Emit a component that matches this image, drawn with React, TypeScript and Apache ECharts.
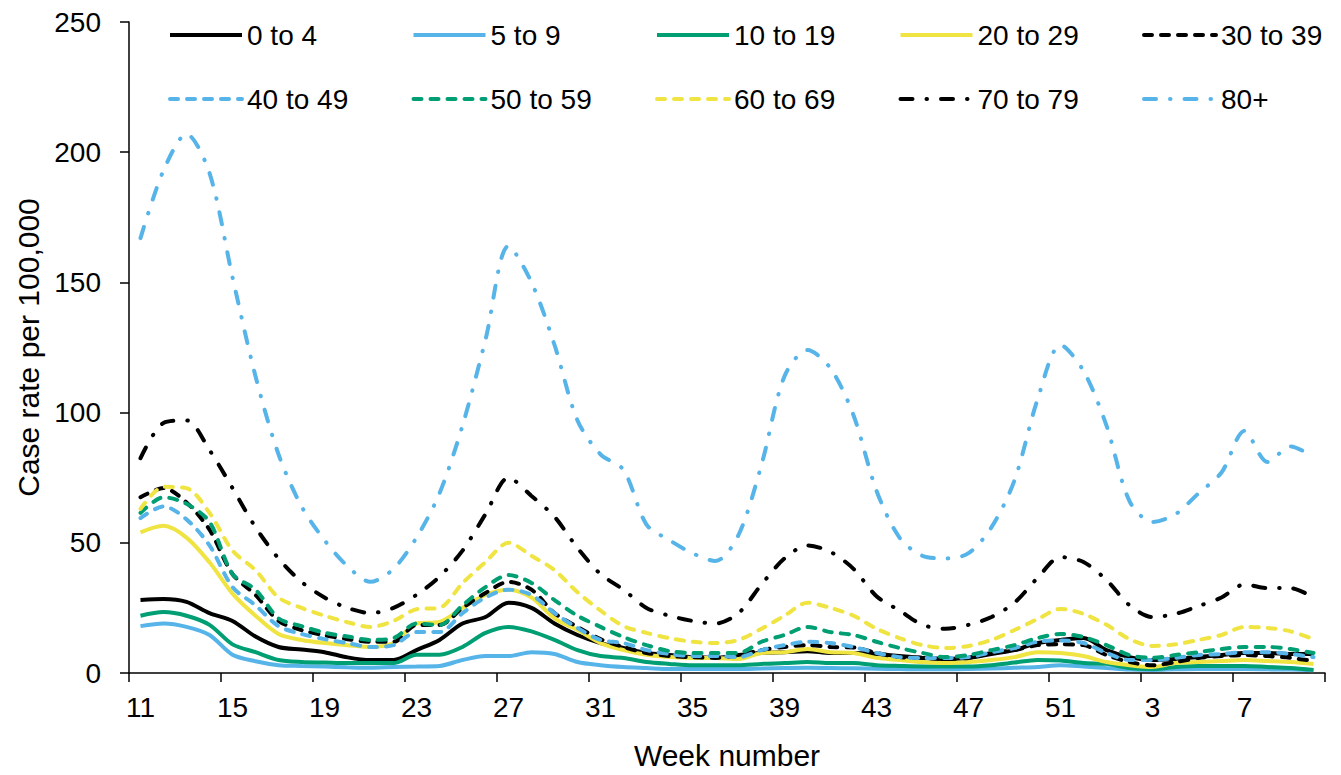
import React, { useEffect, useRef } from "react";
import * as echarts from "echarts";

const weeks: string[] = [
  "11","12","13","14","15","16","17","18","19","20",
  "21","22","23","24","25","26","27","28","29","30",
  "31","32","33","34","35","36","37","38","39","40",
  "41","42","43","44","45","46","47","48","49","50",
  "51","52","1","2","3","4","5","6","7","8","9","10",
];

const age0to4 = [28, 28.4, 27.3, 23, 20, 14, 10, 9, 8, 6, 5, 5, 8.8, 12.7, 19, 21.5, 27, 25, 19, 14.6, 11.5, 9.6, 7.7, 6.9, 6.1, 5.8, 6.9, 7.7, 8, 8.4, 7.7, 7.7, 7.3, 6.5, 5.8, 5.4, 5.8, 7.3, 8.8, 11.5, 12.7, 13.4, 8.8, 6.1, 5, 5.4, 6.1, 6.9, 7.7, 7.7, 7.3, 7.3];
const age5to9 = [18, 19, 17.7, 14.6, 7, 4.5, 3, 2.7, 2.5, 2.2, 2, 2.3, 2.5, 2.7, 5, 6.5, 6.5, 8, 7.3, 4.2, 3, 2.3, 1.9, 1.5, 1.5, 1.5, 1.5, 1.7, 1.9, 2, 1.9, 1.8, 1.6, 1.5, 1.4, 1.4, 1.5, 1.7, 2, 2.3, 3, 2.5, 1.9, 1.3, 1.2, 1.4, 1.5, 1.5, 1.5, 1.4, 1.3, 1.1];
const age10to19 = [22, 23.4, 22, 18.5, 11, 8, 5, 4.2, 4, 3.8, 3.8, 3.8, 7, 7, 10, 15.4, 17.7, 16, 12.7, 8.8, 6.5, 5.8, 4.2, 3.5, 3, 3, 3, 3.5, 3.8, 4.2, 3.8, 3.8, 3, 2.7, 2.5, 2.5, 2.5, 3, 4, 5, 4.8, 3.8, 3.5, 1.9, 1.5, 2.3, 2.7, 2.7, 2.7, 2.3, 1.9, 1.2];
const age20to29 = [54, 56.5, 52, 42.5, 30.5, 22, 15, 12.7, 11.5, 10.7, 10, 11.5, 19, 19.6, 25, 30, 32, 29, 21, 16.5, 11.5, 8.8, 7, 6.1, 5.8, 5.8, 5.4, 7.7, 8, 9.2, 8, 7.7, 5.8, 5, 4.2, 3.8, 4.2, 5, 6.1, 8, 7.7, 6.5, 4.2, 3, 2.3, 3.8, 4.2, 4.6, 5, 4.6, 4.2, 3.5];
const age30to39 = [67.5, 71, 65.5, 55, 38, 30, 20, 16.5, 14.5, 13, 12, 12, 18.4, 18.4, 25, 30.7, 35, 32, 23, 17.7, 13, 10, 7.7, 6.5, 6.1, 5.8, 6.9, 8.8, 10, 10.7, 10, 9.8, 7.7, 6.1, 5.8, 5.4, 5.8, 7.7, 8.8, 10.7, 11, 10.7, 6.9, 4.2, 3, 4.2, 5.8, 6.5, 6.9, 6.5, 5.8, 4.6];
const age40to49 = [59.5, 64, 59, 49, 33, 26, 18, 15, 13, 11.5, 10, 10.7, 15.7, 15.7, 23, 29, 32, 30, 23, 17.3, 12.7, 11.5, 8.8, 7.3, 6.5, 6.5, 6.1, 8.8, 10.7, 12, 11.5, 10, 7.7, 6.1, 5.8, 5.8, 6.1, 8, 9.6, 12, 12.5, 11.5, 7.7, 5, 5, 5.8, 6.9, 7.3, 8, 8, 7.3, 6.1];
const age50to59 = [61.5, 67.5, 65, 58, 38, 32, 21, 18, 15.5, 14, 12.7, 13.4, 19, 18.4, 26, 33, 37.6, 34.6, 28, 22, 17.7, 13.8, 10.7, 8.4, 7.7, 7.7, 7.7, 12, 14.6, 17.7, 15.7, 14.6, 12, 9.6, 7.7, 6.1, 6.9, 8.8, 10.7, 13.4, 15, 13.8, 10.7, 6.9, 5.8, 6.9, 8, 9.2, 10, 10, 9.2, 7.7];
const age60to69 = [63, 71.5, 71, 61.5, 47, 39.5, 29, 25, 22, 19.5, 17.7, 20, 24.5, 25, 34.5, 42.6, 50, 45, 39.5, 31, 24, 18, 15.4, 13.4, 12, 11.5, 12.7, 17, 22, 27, 25, 22, 17, 13.4, 10.7, 9.6, 10.4, 12.7, 16.5, 20.7, 24.6, 22.7, 18.5, 13, 10.4, 11, 12.7, 14.6, 17.7, 17.3, 16, 13];
const age70to79 = [82.5, 96, 97, 85.6, 71, 56, 44, 35, 29, 25, 23, 25, 30, 37, 47, 61, 75, 68, 60, 48, 38, 32, 25, 22, 20, 19, 23, 34, 44, 49, 46.5, 40, 29.5, 24, 18.5, 17, 18.5, 21.5, 27, 36.5, 44.5, 42.6, 35.7, 26, 21.5, 22.7, 25.7, 29, 34, 32.6, 32.6, 29];
const age80plus = [167, 193, 207, 192, 152, 114, 84, 64, 51, 41, 35, 40, 52, 69, 95, 128, 164, 150, 126, 97, 84, 78, 57, 51, 46, 43, 53, 80, 114, 124, 117, 99, 70, 52, 45, 44, 46, 56, 74, 105, 126, 116, 95, 66, 58, 61, 69, 77, 93, 81, 87, 83];

const seriesNames = ["0 to 4", "5 to 9", "10 to 19", "20 to 29", "30 to 39", "40 to 49", "50 to 59", "60 to 69", "70 to 79", "80+"];
const seriesData = [age0to4, age5to9, age10to19, age20to29, age30to39, age40to49, age50to59, age60to69, age70to79, age80plus];

const BLACK = "#000000";
const BLUE = "#56B4E9";
const GREEN = "#009E73";
const YELLOW = "#F0E442";
const colors = [BLACK, BLUE, GREEN, YELLOW, BLACK, BLUE, GREEN, YELLOW, BLACK, BLUE];
const DASH = [8, 9];
const DASHDOT = [12, 14, 0.5, 14];
const lineTypes: any[] = ["solid", "solid", "solid", "solid", DASH, DASH, DASH, DASH, DASHDOT, DASHDOT];

const FONT = "'Liberation Sans', Arial, sans-serif";

export default function App() {
  const ref = useRef<HTMLDivElement>(null);
  useEffect(() => {
    if (!ref.current) return;
    const chart = echarts.init(ref.current, null, { renderer: "svg" });
    const colX = [168, 411.5, 655, 898.5, 1142];
    const rowTop = [21, 85];
    const legends = seriesNames.map((name, i) => ({
      data: [name],
      left: colX[i % 5],
      top: rowTop[Math.floor(i / 5)],
      padding: 0,
      itemWidth: 72,
      itemHeight: 14,
      itemGap: 0,
      selectedMode: false,
      itemStyle: { opacity: 0, borderWidth: 0 },
      lineStyle: {
        width: 4,
        color: colors[i],
        type: lineTypes[i],
        cap: i >= 4 ? "round" : "butt",
      },
      textStyle: { fontSize: 28, color: "#000", fontFamily: FONT, padding: [0, 0, 0, 0] },
    }));
    const series = seriesNames.map((name, i) => ({
      name,
      type: "line",
      data: seriesData[i],
      symbol: "none",
      smooth: 0.3,
      color: colors[i],
      lineStyle: {
        color: colors[i],
        width: 4,
        type: lineTypes[i],
        cap: i >= 4 ? "round" : "butt",
      },
    }));
    chart.setOption({
      animation: false,
      backgroundColor: "#ffffff",
      textStyle: { fontFamily: FONT },
      grid: { left: 129, right: 16, top: 22, bottom: 102, containLabel: false },
      legend: legends,
      xAxis: {
        type: "category",
        data: weeks,
        boundaryGap: true,
        name: "Week number",
        nameLocation: "middle",
        nameGap: 67,
        nameTextStyle: { fontSize: 30, color: "#000", fontFamily: FONT },
        axisLine: { show: true, lineStyle: { color: "#000", width: 1.5 } },
        axisTick: { show: true, interval: 3, length: 9, lineStyle: { color: "#000", width: 1.5 } },
        axisLabel: { interval: 3, fontSize: 28, color: "#000", margin: 20, fontFamily: FONT },
        splitLine: { show: false },
      },
      yAxis: {
        type: "value",
        min: 0,
        max: 250,
        interval: 50,
        name: "Case rate per 100,000",
        nameLocation: "middle",
        nameGap: 84,
        nameTextStyle: { fontSize: 30, color: "#000", fontFamily: FONT },
        axisLine: { show: true, lineStyle: { color: "#000", width: 1.5 } },
        axisTick: { show: true, length: 9, lineStyle: { color: "#000", width: 1.5 } },
        axisLabel: { fontSize: 28, color: "#000", margin: 28, fontFamily: FONT },
        splitLine: { show: false },
      },
      series,
    });
    return () => chart.dispose();
  }, []);
  return <div ref={ref} style={{ width: 1341, height: 775, position: "absolute", left: 0, top: 0 }} />;
}
